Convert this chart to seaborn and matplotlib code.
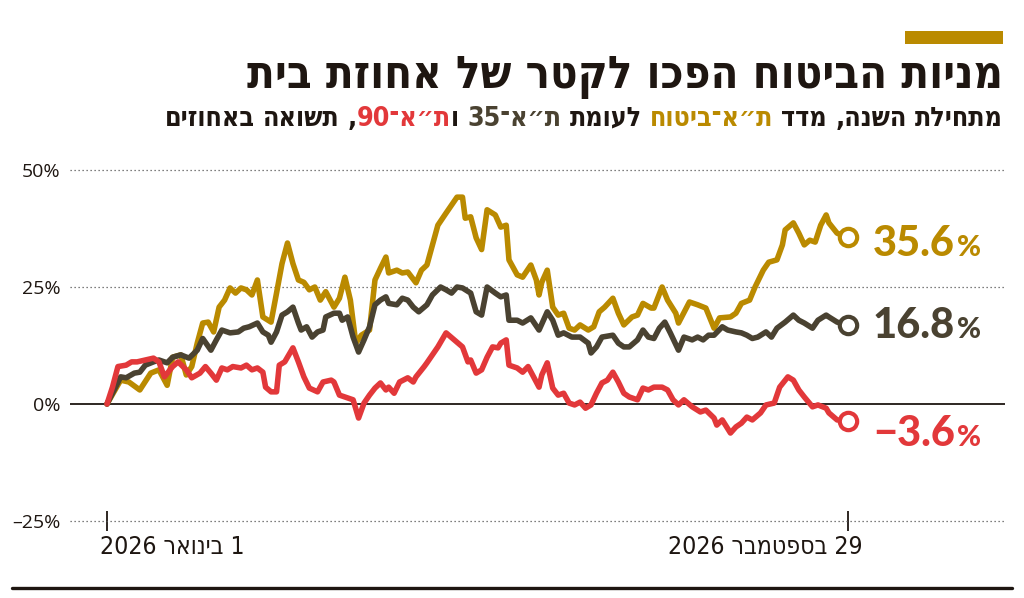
import re
import numpy as np
import pandas as pd
import matplotlib
matplotlib.use('Agg')
import matplotlib.pyplot as plt
import matplotlib.dates as mdates
import seaborn as sns
from matplotlib.patches import Rectangle
from matplotlib.lines import Line2D
from matplotlib.transforms import offset_copy

# ==========================================
# נתונים: תשואה מתחילת השנה באחוזים
# ==========================================
START = pd.Timestamp('2026-01-01')
END_DAY = 271  # 29 בספטמבר

# ת"א-ביטוח
bit_days = [0, 5, 8, 12, 16, 19, 22, 24, 27, 29, 31, 33, 35, 37, 39, 41, 43, 45, 47, 49,
            51, 53, 55, 57, 60, 62, 64, 66, 68, 70, 72, 74, 76, 78, 80, 83, 85, 87, 89, 91,
            93, 96, 98, 100, 102, 103, 106, 108, 110, 113, 115, 117, 121, 124, 126, 128, 130, 131, 133, 135,
            137, 139, 142, 144, 146, 147, 150, 152, 155, 157, 158, 159, 161, 163, 165, 167, 169, 171, 173, 176,
            178, 180, 182, 185, 187, 189, 192, 194, 196, 199, 200, 203, 205, 208, 209, 213, 216, 219, 222, 224,
            228, 230, 232, 235, 237, 240, 242, 245, 247, 248, 251, 253, 255, 257, 259, 261, 263, 264, 267, 271]
bit_vals = [0, 5.1, 4.7, 3.0, 6.6, 7.3, 4.0, 10.0, 10.5, 6.2, 8.0, 13.0, 17.3, 17.5, 15.4, 20.7, 22.2, 24.8, 23.7, 24.8,
            24.4, 23.3, 26.5, 18.6, 17.5, 23.7, 30.0, 34.4, 30.0, 26.5, 26.0, 24.4, 25.0, 22.2, 24.0, 20.7, 22.6, 27.1, 22.2, 13.0,
            14.7, 15.8, 26.5, 29.0, 31.4, 28.0, 28.6, 28.0, 28.2, 25.9, 28.6, 29.7, 38.2, 40.8, 42.5, 44.2, 44.2, 39.7, 40.0, 35.5,
            33.0, 41.5, 40.4, 37.8, 38.2, 30.8, 27.6, 27.1, 29.7, 26.5, 23.3, 26.0, 28.6, 20.7, 19.0, 19.4, 16.2, 15.8, 16.9, 15.8,
            16.5, 19.7, 20.7, 22.6, 19.4, 16.9, 18.6, 19.0, 21.5, 20.5, 20.5, 25.0, 22.2, 19.4, 17.3, 21.8, 21.2, 20.5, 16.2, 18.4,
            18.6, 19.4, 21.5, 22.2, 25.0, 28.6, 30.3, 30.8, 34.0, 37.2, 38.7, 36.5, 34.0, 35.0, 34.6, 38.2, 40.4, 38.7, 36.5, 35.6]

# ת"א-35
ta35_days = [0, 2, 5, 7, 10, 12, 14, 17, 19, 22, 24, 27, 30, 33, 35, 38, 40, 42, 45, 48,
             50, 52, 55, 57, 59, 60, 62, 64, 66, 68, 70, 71, 73, 75, 77, 79, 80, 83, 85, 86,
             88, 90, 92, 94, 96, 98, 100, 102, 103, 106, 108, 110, 112, 114, 117, 119, 122, 124, 126, 128,
             130, 133, 135, 137, 139, 142, 144, 146, 147, 150, 152, 155, 158, 161, 163, 165, 167, 170, 173, 176,
             177, 179, 181, 185, 187, 189, 191, 194, 196, 198, 200, 202, 204, 206, 209, 211, 214, 216, 218, 220,
             222, 225, 227, 230, 232, 234, 236, 238, 241, 243, 245, 248, 251, 253, 255, 258, 260, 263, 264, 267, 271]
ta35_vals = [0, 2.3, 5.8, 5.6, 6.6, 6.8, 8.3, 9.0, 9.4, 8.8, 10.0, 10.5, 9.8, 11.5, 14.0, 11.5, 13.7, 15.8, 15.2, 15.4,
             16.2, 16.5, 17.3, 15.4, 14.7, 13.2, 15.4, 19.0, 19.7, 20.7, 17.3, 15.8, 16.5, 14.3, 15.4, 15.8, 18.6, 19.4, 19.4, 17.9,
             18.6, 14.3, 11.1, 13.7, 16.5, 21.2, 22.2, 22.9, 21.5, 21.2, 22.6, 22.2, 20.7, 19.7, 21.2, 23.3, 25.0, 24.4, 23.7, 25.0,
             24.8, 23.7, 19.7, 19.0, 25.0, 23.7, 22.9, 23.3, 17.9, 17.9, 17.3, 18.4, 15.8, 19.7, 17.9, 14.7, 15.2, 14.3, 14.3, 13.0,
             10.9, 12.2, 14.3, 14.7, 13.0, 12.2, 12.2, 13.7, 15.8, 14.3, 14.0, 16.2, 17.5, 15.2, 11.5, 14.3, 13.7, 14.3, 13.7, 14.7,
             14.7, 16.5, 15.8, 15.4, 15.2, 14.7, 14.0, 14.3, 15.4, 14.3, 16.2, 17.5, 19.0, 17.9, 17.3, 16.2, 17.9, 19.0, 18.6, 17.5, 16.8]

# ת"א-90
ta90_days = [0, 2, 4, 7, 9, 11, 14, 17, 19, 21, 24, 26, 29, 31, 34, 36, 38, 40, 42, 44,
             46, 49, 51, 53, 55, 57, 58, 60, 62, 63, 65, 68, 70, 72, 74, 77, 79, 82, 83, 85,
             88, 90, 92, 94, 96, 98, 100, 102, 103, 105, 107, 110, 112, 113, 116, 117, 119, 121, 124, 125,
             128, 130, 132, 133, 135, 137, 139, 141, 143, 144, 146, 147, 150, 152, 154, 156, 158, 159, 161, 163,
             165, 167, 169, 171, 173, 175, 177, 179, 181, 183, 185, 187, 189, 191, 194, 196, 198, 200, 203, 205,
             207, 209, 211, 214, 217, 219, 222, 223, 225, 228, 230, 232, 234, 236, 239, 241, 244, 246, 249, 251,
             253, 255, 258, 260, 263, 264, 267, 271]
ta90_vals = [0, 3.6, 8.0, 8.3, 9.0, 9.0, 9.4, 9.8, 9.0, 5.8, 8.0, 9.0, 7.3, 5.6, 6.6, 8.0, 6.6, 5.1, 7.7, 7.3,
             8.0, 7.7, 8.3, 7.3, 7.7, 6.8, 3.6, 2.6, 2.6, 8.3, 9.0, 12.0, 9.0, 5.8, 3.4, 2.6, 4.7, 5.1, 4.7, 1.9,
             1.3, 0.9, -3.0, 0.2, 1.9, 3.4, 4.5, 3.0, 3.6, 2.3, 4.7, 5.6, 4.7, 5.8, 8.0, 8.8, 10.5, 12.2, 15.2, 14.7,
             13.2, 12.2, 9.0, 9.4, 6.6, 7.3, 10.0, 12.2, 12.0, 13.0, 13.7, 8.3, 7.7, 6.8, 8.0, 5.8, 3.6, 6.2, 8.8, 3.4,
             1.9, 2.3, 0.2, -0.2, 0.4, -0.9, -0.2, 2.3, 4.5, 5.1, 6.8, 4.7, 2.3, 1.5, 0.9, 3.4, 3.0, 3.6, 3.6, 3.0,
             0.9, -0.2, 0.9, -0.6, -1.7, -1.3, -3.0, -4.5, -3.4, -6.2, -4.9, -4.1, -2.8, -3.4, -1.9, -0.2, 0.2, 3.6, 5.8, 5.1,
             3.0, 1.5, -0.6, -0.2, -0.9, -1.9, -3.4, -3.6]

series_names = ['ת״א־ביטוח', 'ת״א־35', 'ת״א־90']
end_labels = ['35.6', '16.8', '−3.6']
y_ticks = [-25, 0, 25, 50]
y_tick_labels = ['–25%', '0%', '25%', '50%']
x_label_start = '1 בינואר 2026'
x_label_end = '29 בספטמבר 2026'
title = 'מניות הביטוח הפכו לקטר של אחוזת בית'

GOLD = '#BA8A00'
DARK = '#4A4231'
RED = '#E2383A'
INK = '#1E1611'
colors = [GOLD, DARK, RED]

W, H = 1024, 598
HEB = ['DejaVu Sans']


def rtl(s):
    # matplotlib אינו תומך בכיווניות, הופכים ידנית ומשאירים מספרים משמאל לימין
    return re.sub(r'[0-9.%]+', lambda m: m.group(0)[::-1], s[::-1])


def fx(x):
    return x / W


def fy(y):
    return 1 - y / H


# ==========================================
# טבלת נתונים
# ==========================================
frames = []
for name, days, vals in zip(series_names, [bit_days, ta35_days, ta90_days],
                            [bit_vals, ta35_vals, ta90_vals]):
    frames.append(pd.DataFrame({
        'date': START + pd.to_timedelta(days, unit='D'),
        'value': vals,
        'series': name,
    }))
df = pd.concat(frames, ignore_index=True)

sns.set_style('white')
plt.rcParams['font.family'] = HEB

fig = plt.figure(figsize=(W / 100, H / 100), dpi=100)
r = fig.canvas.get_renderer()
ax = fig.add_axes([fx(70), 77 / H, 935 / W, 356 / H])

sns.lineplot(data=df, x='date', y='value', hue='series', hue_order=series_names,
             palette=colors, linewidth=4.0, legend=False, estimator=None, ax=ax,
             solid_joinstyle='round', solid_capstyle='round', zorder=3)

ax.set_xlim(START - pd.Timedelta(days=13.53), START + pd.Timedelta(days=328.4))
ax.set_ylim(-25, 51.07)
for s in ax.spines.values():
    s.set_visible(False)
ax.set_xlabel('')
ax.set_ylabel('')

# קווי רשת
for v in y_ticks:
    if v == 0:
        ax.axhline(v, color=INK, lw=1.3, zorder=1)
    else:
        ax.axhline(v, color='#555555', lw=0.9, ls=(0, (1, 2.2)), zorder=1, clip_on=False)

ax.set_yticks(y_ticks)
ax.set_yticklabels(y_tick_labels, fontfamily=['Open Sans', 'DejaVu Sans'], fontsize=14, color=INK)
ax.tick_params(axis='y', length=0, pad=7)

d0 = mdates.date2num(START)
d1 = mdates.date2num(START + pd.Timedelta(days=END_DAY))
ax.set_xticks([d0, d1])
ax.set_xticklabels(['', ''])
ax.tick_params(axis='x', bottom=True, direction='inout', length=15, width=1.3, color=INK, pad=0)

xt = ax.get_xaxis_transform()
t_start = ax.text(d0, 0, rtl(x_label_start), transform=offset_copy(xt, fig=fig, x=-7, y=-26, units='dots'),
                  ha='left', va='center', fontsize=15, color=INK, fontstretch='condensed')
t_end = ax.text(d1, 0, rtl(x_label_end), transform=offset_copy(xt, fig=fig, x=14, y=-26, units='dots'),
                ha='right', va='center', fontsize=15, color=INK, fontstretch='condensed')
w0 = t_start.get_window_extent(r).width
scale = 145 / w0
t_start.set_fontsize(15 * scale)
t_end.set_fontsize(15 * scale)

# נקודות סיום ותוויות
label_dy = [-19, -13, -25]
for days, vals, col, lab, dy in zip([bit_days, ta35_days, ta90_days],
                                    [bit_vals, ta35_vals, ta90_vals],
                                    colors, end_labels, label_dy):
    xe = mdates.date2num(START + pd.Timedelta(days=days[-1]))
    ax.plot([xe], [vals[-1]], marker='o', ms=12.5, mfc='white', mec=col, mew=3,
            zorder=5, clip_on=False)
    t = ax.text(xe, vals[-1], lab, transform=offset_copy(ax.transData, fig=fig, x=25, y=dy, units='dots'),
                ha='left', va='baseline', fontsize=30, fontweight='black', color=col,
                fontfamily=['Lato', 'DejaVu Sans'], zorder=6)
    bb = t.get_window_extent(r)
    ax.text(xe, vals[-1], '%', transform=offset_copy(ax.transData, fig=fig, x=25 + bb.width + 2, y=dy, units='dots'),
            ha='left', va='baseline', fontsize=21, fontweight='black', color=col,
            fontfamily=['Lato', 'DejaVu Sans'], zorder=6)

# ==========================================
# כותרות
# ==========================================
fig.patches.append(Rectangle((fx(905), fy(44)), 98 / W, 13 / H, transform=fig.transFigure,
                             facecolor=GOLD, edgecolor='none'))
fig.lines.append(Line2D([fx(12), fx(1012)], [fy(588), fy(588)], transform=fig.transFigure,
                        color=INK, lw=2.4))

tt = fig.text(fx(1003), fy(88), rtl(title), ha='right', va='baseline', fontsize=30,
              fontweight='bold', fontstretch='condensed', color=INK)
tt.set_fontsize(30 * 753 / tt.get_window_extent(r).width)

# כותרת משנה בצבעים
sub_tokens = [('מתחילת', INK, ' '), ('השנה,', INK, ' '), ('מדד', INK, ' '),
              ('ת״א־ביטוח', GOLD, ' '), ('לעומת', INK, ' '), ('ת״א־35', DARK, ' '),
              ('ו', INK, ''), ('ת״א־90', RED, ''), (',', INK, ' '),
              ('תשואה', INK, ' '), ('באחוזים', INK, '')]
base = 10
kw = dict(fontweight='bold', fontstretch='condensed', ha='right', va='baseline')
probe1 = fig.text(0, 0, 'א א', fontsize=base, **kw)
probe2 = fig.text(0, 0, 'אא', fontsize=base, **kw)
space_w = probe1.get_window_extent(r).width - probe2.get_window_extent(r).width
probe1.remove()
probe2.remove()
widths = []
for tok, col, gap in sub_tokens:
    p = fig.text(0, 0, rtl(tok), fontsize=base, **kw)
    widths.append(p.get_window_extent(r).width)
    p.remove()
total = sum(widths) + space_w * sum(1 for t in sub_tokens if t[2])
k = 838 / total
x = 1003
for (tok, col, gap), w in zip(sub_tokens, widths):
    fig.text(fx(x), fy(126), rtl(tok), fontsize=base * k, color=col, **kw)
    x -= w * k + (space_w * k if gap else 0)

fig.savefig('out.png', dpi=100, facecolor='white')
